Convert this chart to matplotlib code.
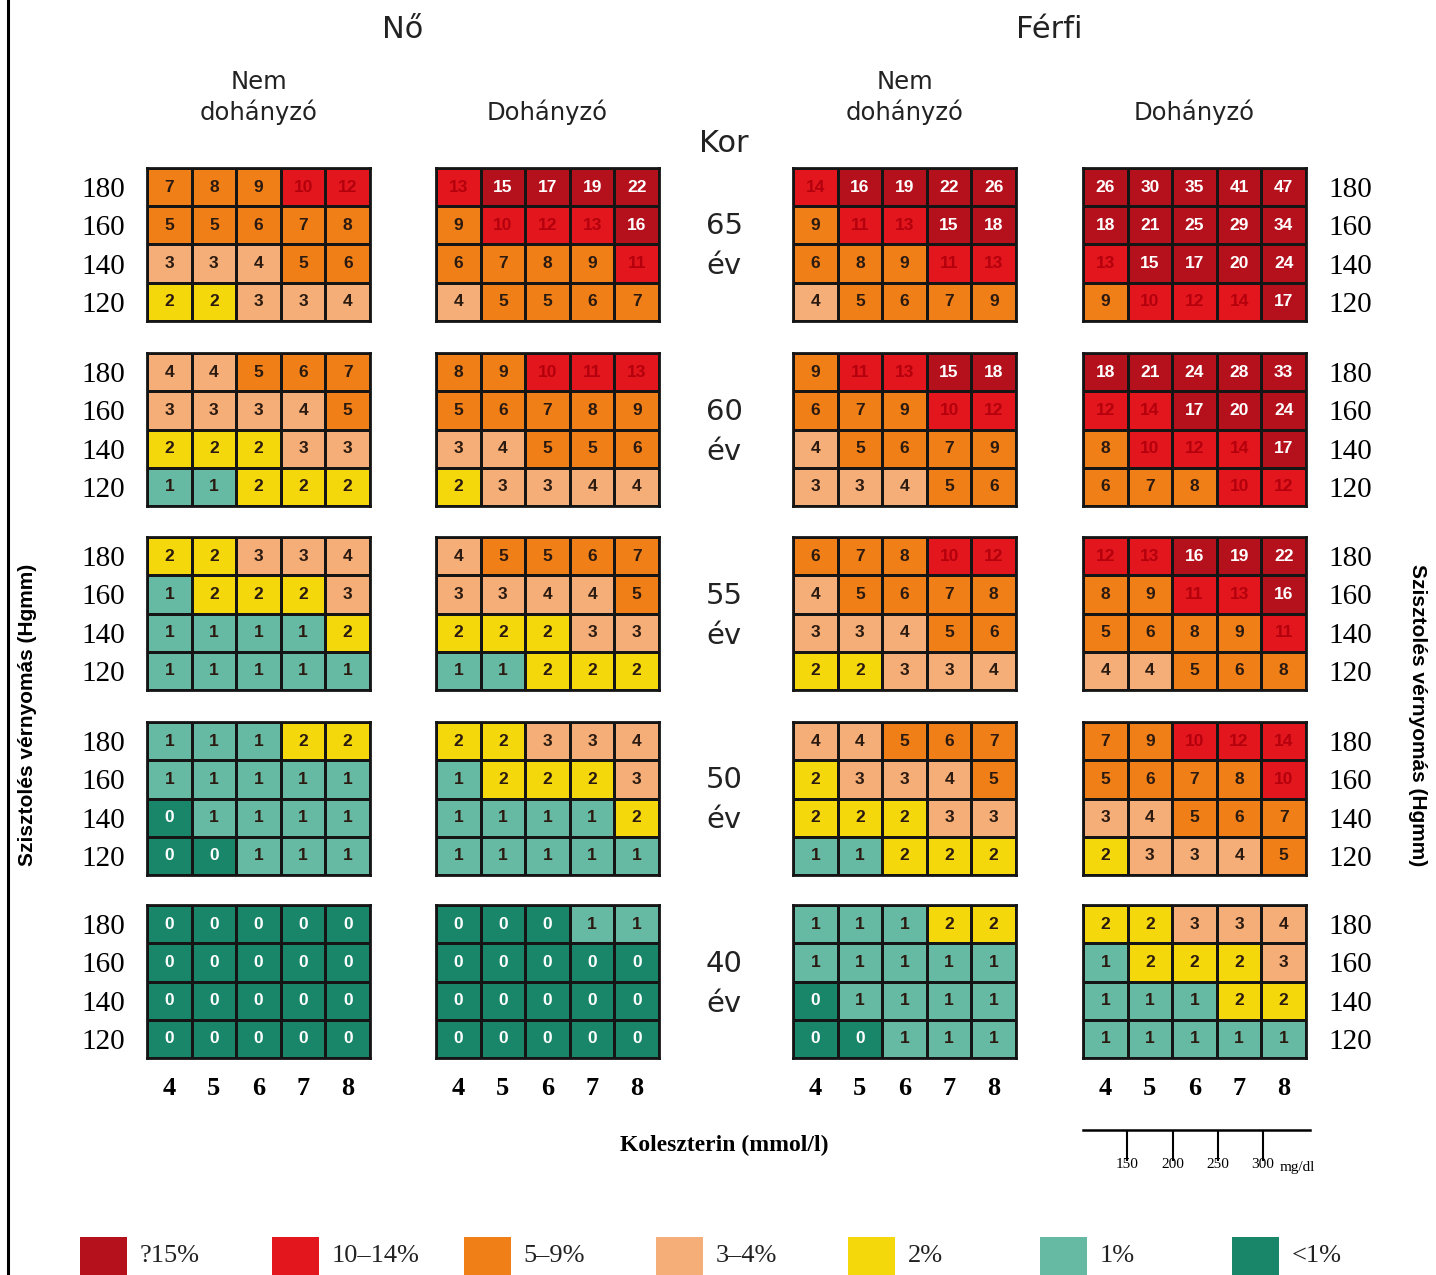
import matplotlib
matplotlib.use('Agg')
import matplotlib.pyplot as plt
from matplotlib.colors import ListedColormap, BoundaryNorm
from matplotlib.lines import Line2D
import numpy as np

# SCORE tabla - 10 eves halalos kardiovaszkularis kockazat (%)
W, H = 1436, 1275

sbp = [180, 160, 140, 120]
chol = [4, 5, 6, 7, 8]
ages = [65, 60, 55, 50, 40]
mgdl = [150, 200, 250, 300]

sex_titles = ['Nő', 'Férfi']
smoke_titles = ['Nem\ndohányzó', 'Dohányzó', 'Nem\ndohányzó', 'Dohányzó']

# rows: 180, 160, 140, 120 ; columns: chol 4..8 ; one grid per age (65, 60, 55, 50, 40)
women_nonsmoker = [
    [[7, 8, 9, 10, 12], [5, 5, 6, 7, 8], [3, 3, 4, 5, 6], [2, 2, 3, 3, 4]],
    [[4, 4, 5, 6, 7], [3, 3, 3, 4, 5], [2, 2, 2, 3, 3], [1, 1, 2, 2, 2]],
    [[2, 2, 3, 3, 4], [1, 2, 2, 2, 3], [1, 1, 1, 1, 2], [1, 1, 1, 1, 1]],
    [[1, 1, 1, 2, 2], [1, 1, 1, 1, 1], [0, 1, 1, 1, 1], [0, 0, 1, 1, 1]],
    [[0, 0, 0, 0, 0], [0, 0, 0, 0, 0], [0, 0, 0, 0, 0], [0, 0, 0, 0, 0]],
]
women_smoker = [
    [[13, 15, 17, 19, 22], [9, 10, 12, 13, 16], [6, 7, 8, 9, 11], [4, 5, 5, 6, 7]],
    [[8, 9, 10, 11, 13], [5, 6, 7, 8, 9], [3, 4, 5, 5, 6], [2, 3, 3, 4, 4]],
    [[4, 5, 5, 6, 7], [3, 3, 4, 4, 5], [2, 2, 2, 3, 3], [1, 1, 2, 2, 2]],
    [[2, 2, 3, 3, 4], [1, 2, 2, 2, 3], [1, 1, 1, 1, 2], [1, 1, 1, 1, 1]],
    [[0, 0, 0, 1, 1], [0, 0, 0, 0, 0], [0, 0, 0, 0, 0], [0, 0, 0, 0, 0]],
]
men_nonsmoker = [
    [[14, 16, 19, 22, 26], [9, 11, 13, 15, 18], [6, 8, 9, 11, 13], [4, 5, 6, 7, 9]],
    [[9, 11, 13, 15, 18], [6, 7, 9, 10, 12], [4, 5, 6, 7, 9], [3, 3, 4, 5, 6]],
    [[6, 7, 8, 10, 12], [4, 5, 6, 7, 8], [3, 3, 4, 5, 6], [2, 2, 3, 3, 4]],
    [[4, 4, 5, 6, 7], [2, 3, 3, 4, 5], [2, 2, 2, 3, 3], [1, 1, 2, 2, 2]],
    [[1, 1, 1, 2, 2], [1, 1, 1, 1, 1], [0, 1, 1, 1, 1], [0, 0, 1, 1, 1]],
]
men_smoker = [
    [[26, 30, 35, 41, 47], [18, 21, 25, 29, 34], [13, 15, 17, 20, 24], [9, 10, 12, 14, 17]],
    [[18, 21, 24, 28, 33], [12, 14, 17, 20, 24], [8, 10, 12, 14, 17], [6, 7, 8, 10, 12]],
    [[12, 13, 16, 19, 22], [8, 9, 11, 13, 16], [5, 6, 8, 9, 11], [4, 4, 5, 6, 8]],
    [[7, 9, 10, 12, 14], [5, 6, 7, 8, 10], [3, 4, 5, 6, 7], [2, 3, 3, 4, 5]],
    [[2, 2, 3, 3, 4], [1, 2, 2, 2, 3], [1, 1, 1, 2, 2], [1, 1, 1, 1, 1]],
]

risk_bounds = [0, 1, 2, 3, 5, 10, 15, 100]
risk_colors = ['#198569', '#66baa4', '#f4d80c', '#f5ae78', '#f07f18', '#e2161c', '#b5111c']
legend_labels = ['?15%', '10–14%', '5–9%', '3–4%', '2%', '1%', '<1%']

cmap = ListedColormap(risk_colors)
norm = BoundaryNorm(risk_bounds, cmap.N)


def frac(x, y, w, h):
    return [x / W, 1 - (y + h) / H, w / W, h / H]


def text_color(v):
    if v == 0 or v >= 15:
        return 'white'
    if v >= 10:
        return '#b4000d'
    return '#2b1a10'


fig = plt.figure(figsize=(W / 100, H / 100), dpi=100)
fig.patch.set_facecolor('white')

col_left = [147, 436, 793, 1083]
row_top = [168, 353, 537, 722, 905]
pw, ph = 223, 153
panels = [women_nonsmoker, women_smoker, men_nonsmoker, men_smoker]

for ci, grids in enumerate(panels):
    for ri, grid in enumerate(grids):
        vals = np.array(grid)
        ax = fig.add_axes(frac(col_left[ci], row_top[ri], pw, ph))
        ax.pcolormesh(vals, cmap=cmap, norm=norm, edgecolors='#151515', linewidth=1.8)
        ax.set_xlim(0, 5)
        ax.set_ylim(4, 0)
        for s in ax.spines.values():
            s.set_linewidth(2)
            s.set_color('#151515')
        for i in range(vals.shape[0]):
            for j in range(vals.shape[1]):
                v = vals[i, j]
                ax.text(j + 0.5, i + 0.5, str(v), ha='center', va='center',
                        fontsize=12.5, fontweight='bold', family='Liberation Sans',
                        color=text_color(v))
        ax.set_yticks(np.arange(4) + 0.5)
        ax.set_yticklabels([str(s) for s in sbp], family='Liberation Serif', fontsize=21)
        ax.set_xticks(np.arange(5) + 0.5)
        ax.set_xticklabels([str(c) for c in chol], family='Liberation Serif',
                           fontsize=19, fontweight='bold')
        ax.tick_params(length=0, left=False, bottom=False,
                       labelleft=(ci == 0), labelright=(ci == 3),
                       labelbottom=(ri == len(grids) - 1), pad=14)
        ax.tick_params(axis='y', pad=16)

# headers
for k, title in enumerate(sex_titles):
    cx = (col_left[2 * k] + col_left[2 * k + 1] + pw) / 2
    fig.text(cx / W, 1 - 29 / H, title, ha='center', va='center', fontsize=22, color='#222222')
for ci, title in enumerate(smoke_titles):
    cx = col_left[ci] + pw / 2
    lines = title.split('\n')
    for li, line in enumerate(lines[::-1]):
        fig.text(cx / W, 1 - (112 - 30 * li) / H, line, ha='center', va='center',
                 fontsize=17.5, color='#222222')

mid_x = 724
fig.text(mid_x / W, 1 - 143 / H, 'Kor', ha='center', va='center', fontsize=22, color='#222222')
for ri, age in enumerate(ages):
    cy = row_top[ri] + ph / 2
    fig.text(mid_x / W, 1 - (cy - 18) / H, str(age), ha='center', va='center',
             fontsize=21, color='#222222')
    fig.text(mid_x / W, 1 - (cy + 22) / H, 'év', ha='center', va='center',
             fontsize=21, color='#222222')

fig.text(mid_x / W, 1 - 1145 / H, 'Koleszterin (mmol/l)', ha='center', va='center',
         fontsize=17, fontweight='bold', family='Liberation Serif')

ylab = 'Szisztolés vérnyomás (Hgmm)'
fig.text(28 / W, 1 - 715 / H, ylab, rotation=90, ha='center', va='center',
         fontsize=15, fontweight='bold', family=['Liberation Sans Narrow', 'Liberation Sans'])
fig.text(1418 / W, 1 - 715 / H, ylab, rotation=-90, ha='center', va='center',
         fontsize=15, fontweight='bold', family=['Liberation Sans Narrow', 'Liberation Sans'])

# mg/dl scale
sax = fig.add_axes(frac(1083, 1130, 227, 22))
sax.set_xlim(101, 352)
sax.set_ylim(0, 1)
for name, s in sax.spines.items():
    s.set_visible(name == 'top')
sax.spines['top'].set_linewidth(1.8)
sax.set_yticks([])
sax.set_xticks(mgdl)
sax.set_xticklabels([str(m) for m in mgdl], family='Liberation Serif', fontsize=11)
sax.tick_params(axis='x', top=True, bottom=False, labeltop=False, labelbottom=True,
                direction='in', length=22, width=1.5, pad=4)
sax.patch.set_alpha(0)
sax.text(318, -0.72, 'mg/dl', ha='left', va='center',
         family='Liberation Serif', fontsize=11)

# legend
lax = fig.add_axes(frac(80, 1237, 7 * 192, 38))
lax.set_xlim(0, 7)
lax.set_ylim(0, 1)
lax.axis('off')
leg_colors = risk_colors[::-1]
lax.bar(np.arange(7), 1, width=0.245, align='edge', color=leg_colors)
for i, lab in enumerate(legend_labels):
    lax.text(i + 0.31, 0.5, lab, ha='left', va='center', family='Liberation Serif',
             fontsize=19, color='#222222')

fig.add_artist(Line2D([8 / W, 8 / W], [0, 1], color='black', lw=2.2, transform=fig.transFigure))

fig.savefig('out.png', dpi=100, facecolor='white')
